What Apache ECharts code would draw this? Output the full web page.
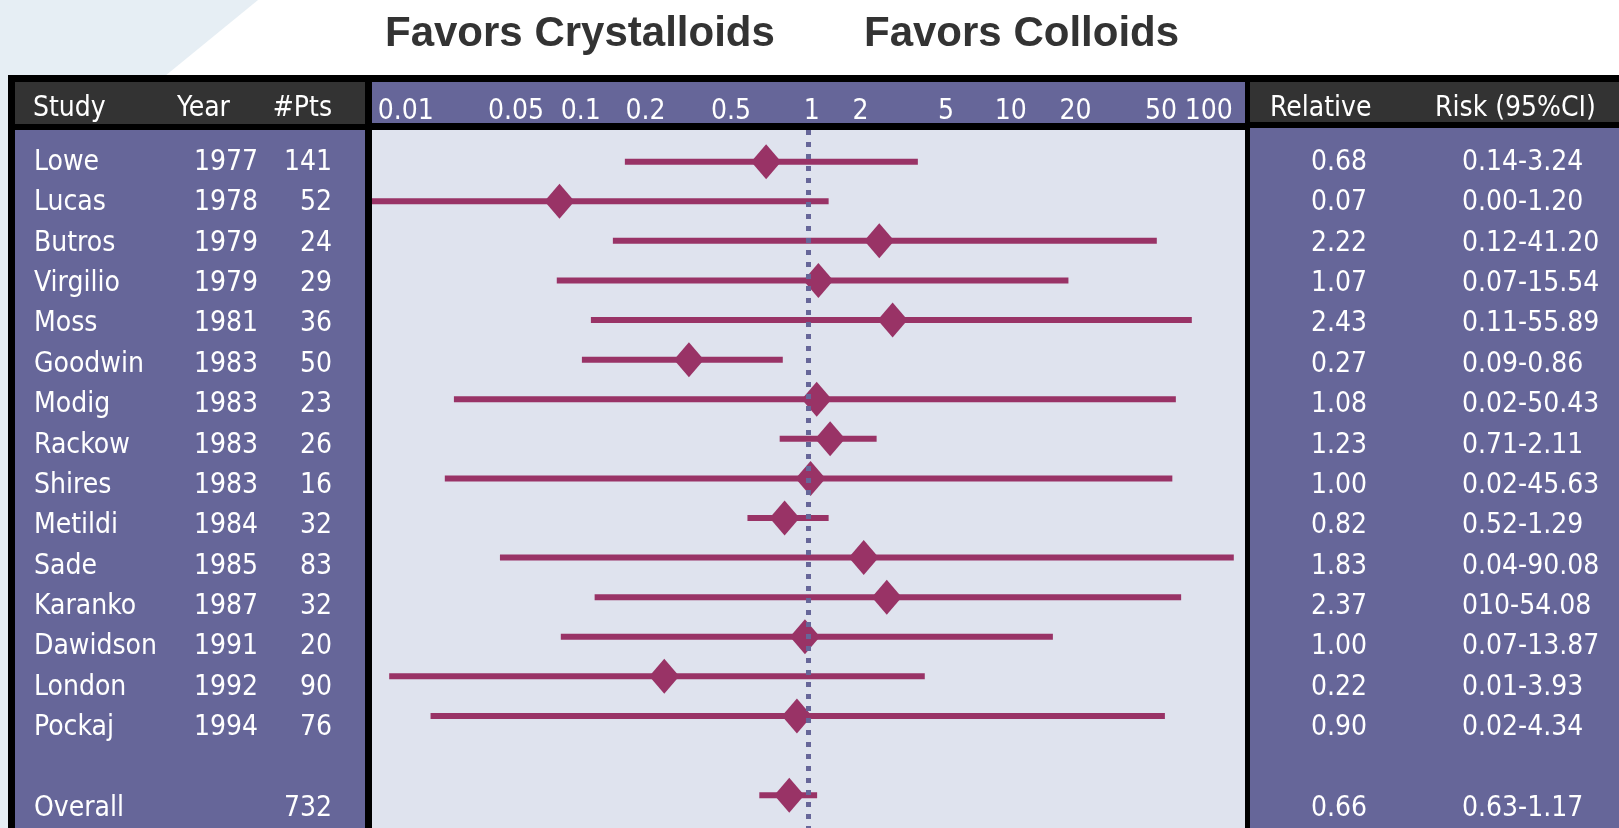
<!DOCTYPE html>
<html>
<head>
<meta charset="utf-8">
<script src="https://cdn.jsdelivr.net/npm/echarts/dist/echarts.min.js"></script>
<style>
  html, body { margin: 0; padding: 0; background: #fff; }
  #J-forest { width: 1619px; height: 828px; }
</style>
</head>
<body>
<div id="J-forest"></div>
<script>
// table columns (row 15 is the empty spacer before Overall)
const studies  = ['Lowe','Lucas','Butros','Virgilio','Moss','Goodwin','Modig','Rackow','Shires','Metildi','Sade','Karanko','Dawidson','London','Pockaj','','Overall'];
const years    = ['1977','1978','1979','1979','1981','1983','1983','1983','1983','1984','1985','1987','1991','1992','1994','',''];
const patients = ['141','52','24','29','36','50','23','26','16','32','83','32','20','90','76','','732'];
const rrText   = ['0.68','0.07','2.22','1.07','2.43','0.27','1.08','1.23','1.00','0.82','1.83','2.37','1.00','0.22','0.90','','0.66'];
const ciText   = ['0.14-3.24','0.00-1.20','0.12-41.20','0.07-15.54','0.11-55.89','0.09-0.86','0.02-50.43','0.71-2.11','0.02-45.63','0.52-1.29','0.04-90.08','010-54.08','0.07-13.87','0.01-3.93','0.02-4.34','','0.63-1.17'];

// plotted marks
const rrPlot = [0.64, 0.07, 2.15, 1.12, 2.48, 0.28, 1.10, 1.27, 1.03, 0.78, 1.82, 2.33, 0.97, 0.215, 0.89, null, 0.82];
const ciLow  = [0.141, 0.0094, 0.124, 0.068, 0.098, 0.089, 0.0226, 0.74, 0.0205, 0.524, 0.037, 0.102, 0.071, 0.0113, 0.0176, null, 0.595];
const ciHigh = [3.25, 1.25, 42.0, 16.3, 61.1, 0.765, 51.5, 2.09, 49.6, 1.25, 95.8, 54.5, 13.8, 3.50, 45.8, null, 1.105];

const ticks = ['0.01','0.05','0.1','0.2','0.5','1','2','5','10','20','50','100'];
const headLeft  = ['Study','Year','#Pts'];
const headRight = ['Relative','Risk (95%CI)'];
const titles = ['Favors Crystalloids','Favors Colloids'];

const PURPLE = '#666699';
const DARK = '#333333';
const PLUM = '#993366';
const NARROW = '"Liberation Sans Narrow", "Arial Narrow", "DejaVu Sans Condensed", sans-serif';
const FS = 28;

const rows = studies.map((s, i) => i).filter(i => studies[i] !== '');

function tableAxis(texts, position, offset, align) {
    return {
        type: 'value',
        position: position,
        offset: offset,
        inverse: true,
        min: -0.815,
        max: 16.49,
        axisLine: { show: false },
        axisTick: { show: false },
        splitLine: { show: false },
        axisLabel: {
            customValues: rows,
            formatter: v => texts[v],
            margin: 0,
            align: align,
            padding: [6, 0, 0, 0],
            color: '#fff',
            fontSize: FS,
            fontFamily: NARROW
        }
    };
}

function headText(text, x, align) {
    return {
        type: 'text', x: x, y: 109, z: 10,
        style: { text: text, fill: '#fff', font: FS + 'px ' + NARROW, textAlign: align, textVerticalAlign: 'middle' }
    };
}

function box(x, y, w, h, color) {
    return { type: 'rect', z: -10, shape: { x: x, y: y, width: w, height: h }, style: { fill: color } };
}

const titleStyle = { fontSize: 42, fontWeight: 'bold', color: '#333', fontFamily: '"Liberation Sans", Arial, sans-serif' };
const tickStyle = { color: '#fff', fontSize: FS, fontFamily: NARROW };

const option = {
    animation: false,
    backgroundColor: '#fff',
    title: [
        { text: titles[0], left: 385, top: 13, padding: 0, textStyle: titleStyle },
        { text: titles[1], left: 864, top: 13, padding: 0, textStyle: titleStyle }
    ],
    grid: {
        left: 372,
        right: 1619 - 1245,
        top: 130,
        bottom: 0,
        show: true,
        backgroundColor: '#dfe3ee',
        borderWidth: 0,
        outerBoundsMode: 'none'
    },
    graphic: [
        // light backdrop in the corner
        { type: 'polygon', z: -20, shape: { points: [[0, 0], [258, 0], [165, 76], [0, 76]] }, style: { fill: '#e6eef4' } },
        box(0, 76, 8, 752, '#e6eef4'),
        // left table
        box(8, 75, 364, 753, '#000'),
        box(15, 82, 350, 42, DARK),
        box(15, 130, 350, 698, PURPLE),
        // axis header strip
        box(365, 75, 885, 55, '#000'),
        box(372, 82, 873, 41, PURPLE),
        // right table
        box(1245, 75, 374, 753, '#000'),
        box(1250, 82, 369, 40, DARK),
        box(1250, 128, 369, 700, PURPLE),
        headText(headLeft[0], 33, 'left'),
        headText(headLeft[1], 177, 'left'),
        headText(headLeft[2], 332, 'right'),
        headText(headRight[0], 1270, 'left'),
        headText(headRight[1], 1435, 'left')
    ],
    xAxis: {
        type: 'log',
        position: 'top',
        min: 0.0094,
        max: 108,
        axisLine: { show: false },
        axisTick: { show: false },
        splitLine: { show: false },
        axisLabel: {
            customValues: ticks.map(Number),
            formatter: function (v) {
                const s = String(v);
                if (s === ticks[0]) return s;
                if (s === ticks[ticks.length - 1]) return '{end|' + s + '}';
                if (s === '1') return '{one|' + s + '}';
                return '{mid|' + s + '}';
            },
            rich: {
                mid: Object.assign({ padding: [0, 24, 0, 0] }, tickStyle),
                one: Object.assign({ padding: [0, 0, 0, 8] }, tickStyle),
                end: Object.assign({ padding: [0, 5, 0, 0] }, tickStyle)
            },
            showMinLabel: true,
            showMaxLabel: true,
            hideOverlap: false,
            alignMinLabel: 'left',
            alignMaxLabel: 'right',
            margin: 4,
            color: '#fff',
            fontSize: FS,
            fontFamily: NARROW
        }
    },
    yAxis: [
        {
            type: 'value',
            inverse: true,
            min: -0.8,
            max: 16.83,
            show: false
        },
        tableAxis(studies, 'left', 338, 'left'),
        tableAxis(years, 'left', 114, 'right'),
        tableAxis(patients, 'left', 40, 'right'),
        tableAxis(rrText, 'right', 122, 'right'),
        tableAxis(ciText, 'right', 217, 'left')
    ],
    series: [
        {
            // line of no effect
            type: 'scatter',
            data: [],
            z: 1,
            markLine: {
                silent: true,
                symbol: 'none',
                label: { show: false },
                lineStyle: { color: PURPLE, width: 5, type: [5, 7] },
                data: [{ xAxis: 1 }]
            }
        },
        {
            type: 'custom',
            z: 3,
            encode: { x: [0, 1], y: 2 },
            data: rows.map(i => [ciLow[i], ciHigh[i], i]),
            renderItem: function (params, api) {
                const a = api.coord([api.value(0), api.value(2)]);
                const b = api.coord([api.value(1), api.value(2)]);
                return {
                    type: 'line',
                    shape: { x1: a[0], y1: a[1], x2: b[0], y2: b[1] },
                    style: { stroke: PLUM, lineWidth: 6 }
                };
            }
        },
        {
            type: 'scatter',
            z: 4,
            symbol: 'diamond',
            symbolSize: [30, 35],
            itemStyle: { color: PLUM, opacity: 1 },
            data: rows.map(i => [rrPlot[i], i])
        }
    ]
};

const chart = echarts.init(document.getElementById('J-forest'));
chart.setOption(option);
</script>
</body>
</html>
